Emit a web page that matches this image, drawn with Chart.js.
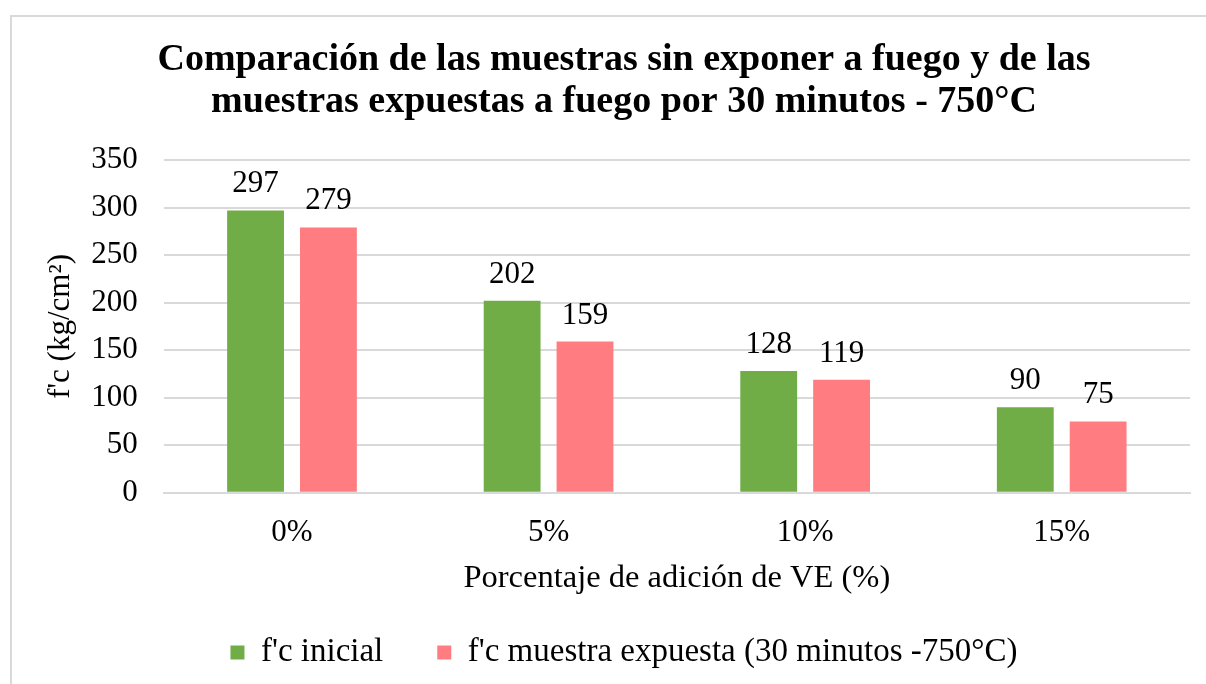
<!DOCTYPE html>
<html lang="es">
<head>
<meta charset="utf-8">
<title>Comparación f'c</title>
<script src="https://cdn.jsdelivr.net/npm/chart.js@4/dist/chart.umd.min.js"></script>
<style>
  html, body { margin: 0; padding: 0; background: #ffffff; overflow: hidden; }
  #frame {
    position: absolute; left: 10px; top: 15px;
    width: 1300px; height: 800px;
    border: 2px solid #d9d9d9;
  }
  #wrap { position: absolute; left: 0; top: 0; width: 1206px; height: 684px; }
</style>
</head>
<body>
<div id="frame"></div>
<div id="wrap"><canvas id="chart" width="1206" height="684"></canvas></div>
<script>
'use strict';

/* data */
const categories = ['0%', '5%', '10%', '15%'];
const fcInicial  = [297, 202, 128, 90];
const fcExpuesta = [279, 159, 119, 75];
const seriesNames = ["f'c inicial", "f'c muestra expuesta (30 minutos -750°C)"];
const titleLines = [
  'Comparación de las muestras sin exponer a fuego y de las',
  'muestras expuestas a fuego por 30 minutos - 750°C'
];
const xTitle = 'Porcentaje de adición de VE (%)';
const yTitle = "f'c (kg/cm²)";

const FONT = "'Liberation Serif', 'Times New Roman', serif";
const GREEN = '#70AD47';
const RED   = '#FF7C80';
const GRID  = '#D9D9D9';

// value labels above each bar
const barLabels = {
  id: 'barLabels',
  afterDatasetsDraw(chart) {
    const ctx = chart.ctx;
    ctx.save();
    ctx.font = '31px ' + FONT;
    ctx.fillStyle = '#000';
    ctx.textAlign = 'center';
    ctx.textBaseline = 'alphabetic';
    chart.data.datasets.forEach((ds, i) => {
      chart.getDatasetMeta(i).data.forEach((bar, j) => {
        ctx.fillText(String(ds.data[j]), bar.x, bar.y - 18);
      });
    });
    ctx.restore();
  }
};

new Chart(document.getElementById('chart'), {
  type: 'bar',
  data: {
    labels: categories,
    datasets: [
      { label: seriesNames[0], data: fcInicial,  backgroundColor: GREEN },
      { label: seriesNames[1], data: fcExpuesta, backgroundColor: RED }
    ]
  },
  options: {
    responsive: false,
    animation: false,
    datasets: { bar: { categoryPercentage: 0.568, barPercentage: 0.78 } },
    layout: { padding: { left: 58, right: 16, top: 20, bottom: 5 } },
    plugins: {
      title: {
        display: true,
        text: titleLines,
        color: '#000',
        font: { family: FONT, size: 38, weight: 'bold', lineHeight: 1.105 },
        padding: { top: 19, bottom: 37 }
      },
      legend: {
        position: 'bottom',
        labels: {
          color: '#000',
          font: { family: FONT, size: 33 },
          boxWidth: 14, boxHeight: 14,
          padding: 54
        }
      },
      tooltip: { enabled: false }
    },
    scales: {
      x: {
        grid: { display: false, drawTicks: false },
        border: { color: GRID, width: 2 },
        ticks: { color: '#000', font: { family: FONT, size: 31 }, padding: 21 },
        title: {
          display: true, text: xTitle, color: '#000',
          font: { family: FONT, size: 32.5 },
          padding: { top: -13, bottom: -16 }
        }
      },
      y: {
        min: 0, max: 350,
        grid: { color: GRID, lineWidth: 2, drawTicks: false },
        border: { display: false },
        ticks: { stepSize: 50, color: '#000', font: { family: FONT, size: 31 }, padding: 26 },
        title: {
          display: true, text: yTitle, color: '#000',
          font: { family: FONT, size: 31 },
          padding: { top: -16, bottom: -14 }
        }
      }
    }
  },
  plugins: [barLabels]
});
</script>
</body>
</html>
